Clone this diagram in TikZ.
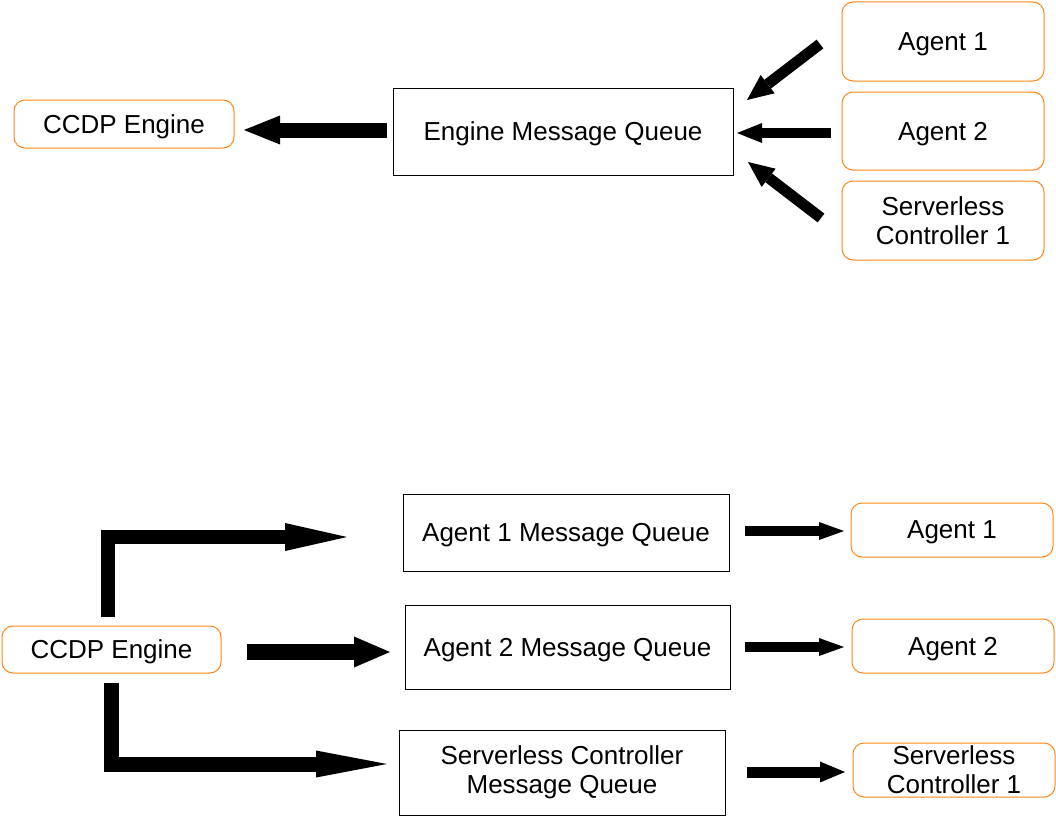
\documentclass[tikz,border=0pt]{standalone}
\usepackage{fontspec}
\setmainfont{Liberation Sans}
\usetikzlibrary{arrows.meta}
\definecolor{boxorange}{RGB}{255,133,20}
\tikzset{
  lbl/.style={font=\fontsize{26}{29}\selectfont, align=center, inner sep=0pt, text=black},
  oneline/.style={text depth=0pt},
  queuebox/.style={lbl, draw=black, line width=1pt},
  actorbox/.style={lbl, draw=boxorange, line width=1pt, rounded corners=11pt},
  fatarrow/.style={line width=#1, line cap=butt, line join=miter, draw=black},
}
\begin{document}
\begin{tikzpicture}[x=1pt,y=-1pt]
\useasboundingbox (0,0) rectangle (1056,816);
% ---------- top ----------
\node[actorbox, oneline, minimum width=220pt, minimum height=48pt] (ccdpT) at (124,124) {CCDP Engine};
\node[queuebox, oneline, minimum width=340pt, minimum height=87pt] (emq) at (563,131.5) {Engine Message Queue};
\node[actorbox, oneline, minimum width=202pt, minimum height=79pt] (a1T) at (943,41.5) {Agent 1};
\node[actorbox, oneline, minimum width=202pt, minimum height=78pt] (a2T) at (943,131) {Agent 2};
\node[actorbox, minimum width=202pt, minimum height=79pt] (scT) at (943,220.5) {Serverless\\Controller 1};

\coordinate (emqOut) at (387,130);
\coordinate (ccdpIn) at (244,130);
\coordinate (a1Out) at (820,44);
\coordinate (emqIn1) at (747,100);
\coordinate (a2Out) at (831,133);
\coordinate (emqIn2) at (737,133);
\coordinate (scOut) at (821,218);
\coordinate (emqIn3) at (748,162);

\draw[fatarrow=15pt, -{Triangle[length=36pt,width=29pt,line width=0pt]}] (emqOut) -- (ccdpIn);
\draw[fatarrow=11pt, -{Triangle[length=26pt,width=23pt,line width=0pt]}] (a1Out) -- (emqIn1);
\draw[fatarrow=10pt, -{Triangle[length=25pt,width=20pt,line width=0pt]}] (a2Out) -- (emqIn2);
\draw[fatarrow=11pt, -{Triangle[length=26pt,width=23pt,line width=0pt]}] (scOut) -- (emqIn3);

% ---------- bottom ----------
\node[actorbox, oneline, minimum width=219pt, minimum height=47pt] (ccdpB) at (111.5,649.5) {CCDP Engine};
\node[queuebox, oneline, minimum width=326pt, minimum height=77pt] (a1q) at (566,532.5) {Agent 1 Message Queue};
\node[queuebox, oneline, minimum width=325pt, minimum height=84pt] (a2q) at (567.5,647) {Agent 2 Message Queue};
\node[queuebox, minimum width=326pt, minimum height=85pt] (scq) at (562,772.5) {Serverless Controller\\Message Queue};
\node[actorbox, oneline, minimum width=202pt, minimum height=54pt] (a1B) at (952,530) {Agent 1};
\node[actorbox, oneline, minimum width=202pt, minimum height=54pt] (a2B) at (953,646) {Agent 2};
\node[actorbox, minimum width=202pt, minimum height=54pt] (scB) at (954,770) {Serverless\\Controller 1};

\coordinate (ccdpUp) at (108,617);
\coordinate (a1qIn) at (347,537);
\coordinate (ccdpRight) at (247,652);
\coordinate (a2qIn) at (390,652);
\coordinate (ccdpDown) at (111.5,683);
\coordinate (scqIn) at (387,764);

\draw[fatarrow=14pt, -{Triangle[length=62pt,width=28pt,line width=0pt]}] (ccdpUp) |- (a1qIn);
\draw[fatarrow=16pt, -{Triangle[length=36pt,width=31pt,line width=0pt]}] (ccdpRight) -- (a2qIn);
\draw[fatarrow=15pt, -{Triangle[length=71pt,width=27pt,line width=0pt]}] (ccdpDown) |- (scqIn);

\coordinate (a1qOut) at (745,531);
\coordinate (a1Bin) at (844,531);
\coordinate (a2qOut) at (745,647);
\coordinate (a2Bin) at (844,647);
\coordinate (scqOut) at (747,772);
\coordinate (scBin) at (845,772);

\draw[fatarrow=10pt, -{Triangle[length=25pt,width=18pt,line width=0pt]}] (a1qOut) -- (a1Bin);
\draw[fatarrow=10pt, -{Triangle[length=25pt,width=18pt,line width=0pt]}] (a2qOut) -- (a2Bin);
\draw[fatarrow=11pt, -{Triangle[length=25pt,width=21pt,line width=0pt]}] (scqOut) -- (scBin);
\end{tikzpicture}
\end{document}
